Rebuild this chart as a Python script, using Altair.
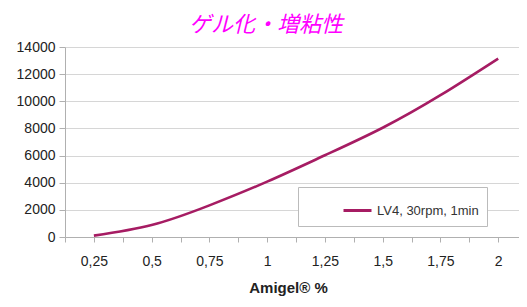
import altair as alt
import pandas as pd

amigel = [0.25, 0.5, 0.75, 1.0, 1.25, 1.5, 1.75, 2.0]
viscosity = [100, 880, 2330, 4080, 6020, 8050, 10450, 13150]
series_name = "LV4, 30rpm, 1min"
x_ticks = [0.125 * i for i in range(1, 18)]
y_ticks = [0, 2000, 4000, 6000, 8000, 10000, 12000, 14000]

df = pd.DataFrame({"x": amigel, "y": viscosity, "s": [series_name] * len(amigel)})

label_expr = ("abs(datum.value*4 - round(datum.value*4)) < 0.001 && datum.value > 0.2 "
              "? replace(datum.label, '.', ',') : ''")

chart = alt.Chart(df).mark_line(strokeWidth=2.6, interpolate="natural").encode(
    x=alt.X("x:Q",
            scale=alt.Scale(domain=[0.125, 2.09], nice=False, zero=False),
            axis=alt.Axis(values=x_ticks, format=".3~f", labelExpr=label_expr,
                          title="Amigel® %", grid=False, tickSize=5,
                          labelPadding=12, titlePadding=12, titleFontSize=15,
                          titleFontWeight="bold", titleColor="#222",
                          titleX=223)),
    y=alt.Y("y:Q",
            scale=alt.Scale(domain=[0, 14000], nice=False),
            axis=alt.Axis(values=y_ticks, format="d", title=None, grid=True,
                          tickSize=6, labelPadding=4)),
    color=alt.Color("s:N", scale=alt.Scale(range=["#A61C63"]),
                    legend=alt.Legend(title=None, orient="none", legendX=233, legendY=140,
                                      symbolType="stroke", symbolStrokeWidth=3,
                                      symbolSize=784, symbolOffset=36,
                                      labelFontSize=13, labelColor="#333",
                                      labelFont="Liberation Sans", labelLimit=400,
                                      strokeColor="#bbb", padding=8, fillColor="white")),
).properties(
    width=454, height=190,
    padding={"left": 57, "top": 39, "right": 0, "bottom": 62},
    autosize=alt.AutoSizeParams(type="none"),
    title=alt.TitleParams("ゲル化・増粘性", font="Noto Sans CJK JP", fontSize=22,
                          fontStyle="italic", fontWeight="normal", color="#FF00FF",
                          anchor="middle", dx=-26, offset=3),
).configure_view(stroke=None).configure_axis(
    labelFont="Liberation Sans", titleFont="Liberation Sans", labelFontSize=14,
    labelColor="#222", domainColor="#b0b0b0", tickColor="#b0b0b0", gridColor="#d6d6d6",
)

chart.save("out.html", embed_options={"renderer": "svg", "actions": False})
